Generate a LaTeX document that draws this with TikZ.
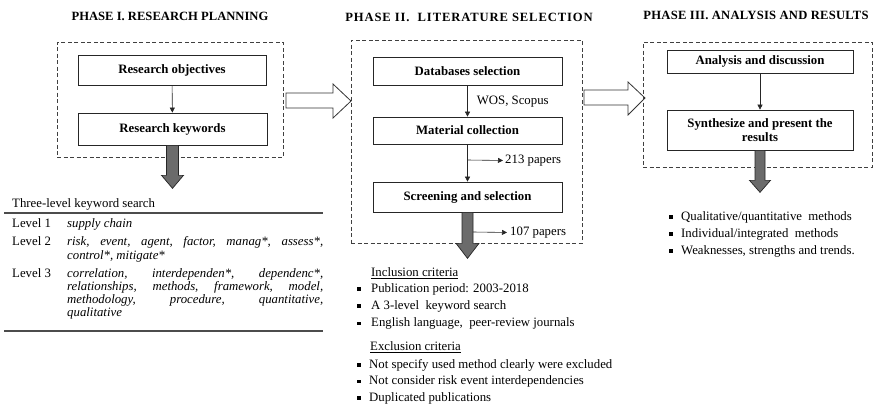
\documentclass[tikz,border=0pt]{standalone}
\usepackage{fontspec}
\setmainfont{Liberation Serif}
\usetikzlibrary{arrows.meta,calc}
\begin{document}
\begin{tikzpicture}[x=1pt,y=-1pt,
  title/.style={font=\fontsize{12.6}{14}\selectfont\bfseries, inner sep=0pt},
  dbox/.style={draw=black!75, line width=0.8pt, dash pattern=on 4pt off 2.5pt, inner sep=0pt},
  pbox/.style={draw=black!85, line width=0.7pt, font=\fontsize{12.8}{14.5}\selectfont\bfseries, align=center, inner sep=0pt},
  conn/.style={draw=black!85, line width=0.6pt, -{Triangle[length=5pt,width=5pt]}},
  garr/.style={draw=black!85, fill=black!58, line width=0.7pt, line join=miter},
  oarr/.style={draw=black!80, fill=white, line width=0.8pt, line join=miter},
  txt/.style={font=\fontsize{12.8}{13}\selectfont, inner sep=0pt, anchor=base west},
  itx/.style={font=\fontsize{12.8}{13}\selectfont\itshape, inner sep=0pt, anchor=base west},
  bul/.style={fill=black, minimum size=3.4pt, inner sep=0pt},
  rulestyle/.style={draw=black!70, line width=1.4pt}
]
\useasboundingbox (0,0) rectangle (874,407);

% ---------- Phase I ----------
\node[title] (t1) at (170,16) {PHASE I. RESEARCH PLANNING};
\node[dbox, minimum width=226pt, minimum height=115pt] (d1) at (170,99.5) {};
\node[pbox, minimum width=188pt, minimum height=30pt] (b1) at (172,70) {Research objectives};
\node[pbox, minimum width=189pt, minimum height=32pt] (b2) at (172.5,129) {Research keywords};
\draw[conn] (b1) -- (b2);
\draw[garr] (b2.south) ++(-6,0) -- ++(12,0) -- ++(0,30) -- ++(5,0) -- ++(-11,13) -- ++(-11,-13) -- ++(5,0) -- cycle;

% keyword table
\node[txt] (kt) at (12,207) {Three-level keyword search};
\coordinate (r1a) at (4,213); \coordinate (r1b) at (323,213);
\draw[rulestyle] (r1a) -- (r1b);
\node[txt] (l1) at (12,227) {Level 1};
\node[itx] (l1t) at (67,227) {supply chain};
\node[txt] (l2) at (12,245.5) {Level 2};
\node[itx] (l2a) at (67,245.5) {\makebox[256pt][s]{risk, event, agent, factor, manag*, assess*,}};
\node[itx] (l2b) at (67,259) {control*, mitigate*};
\node[txt] (l3) at (12,277) {Level 3};
\node[itx] (l3a) at (67,277) {\makebox[256pt][s]{correlation, interdependen*, dependenc*,}};
\node[itx] (l3b) at (67,290) {\makebox[256pt][s]{relationships, methods, framework, model,}};
\node[itx] (l3c) at (67,303) {\makebox[256pt][s]{methodology, procedure, quantitative,}};
\node[itx] (l3d) at (67,316.5) {qualitative};
\coordinate (r2a) at (4,331); \coordinate (r2b) at (323,331);
\draw[rulestyle] (r2a) -- (r2b);

% open arrow I -> II
\draw[oarr] (286,93) -- (333,93) -- (333,84) -- (351,101) -- (333,118) -- (333,108) -- (286,108) -- cycle;

% ---------- Phase II ----------
\node[title] (t2) at (469,17) {\addfontfeature{LetterSpace=7}PHASE II.\ \ LITERATURE SELECTION};
\node[dbox, minimum width=231pt, minimum height=203pt] (d2) at (466.5,141.5) {};
\node[pbox, minimum width=189pt, minimum height=28pt] (c1) at (467.5,71) {Databases selection};
\node[pbox, minimum width=189pt, minimum height=27pt] (c2) at (467.5,130.5) {Material collection};
\node[pbox, minimum width=189pt, minimum height=30pt] (c3) at (467.5,197) {Screening and selection};
\draw[conn] (c1) -- node[txt, anchor=west, pos=0.5, xshift=9pt, yshift=-1pt] (wos) {WOS, Scopus} (c2);
\draw[conn] (c2) -- (c3);
\coordinate (k1) at (467.5,160);
\node[txt, anchor=west] (p213) at (505,160.5) {213 papers};
\draw[conn, shorten >=2pt] (k1) -- (p213.west);
\draw[garr] (c3.south) ++(-5.5,0) -- ++(11,0) -- ++(0,31) -- ++(6,0) -- ++(-11.5,15) -- ++(-11.5,-15) -- ++(6,0) -- cycle;
\coordinate (k2) at (473,232);
\node[txt, anchor=west] (p107) at (510,232.5) {107 papers};
\draw[conn, shorten >=3pt] (k2) -- (p107.west);

% criteria
\node[txt, anchor=west] (inc) at (371,273) {\underline{Inclusion criteria}};
\node[bul] (bi1) at (359,289) {}; \node[txt, anchor=west] (i1) at (371,289) {Publication period: 2003-2018};
\node[bul] (bi2) at (359,306) {}; \node[txt, anchor=west] (i2) at (371,306) {A 3-level\ \ keyword search};
\node[bul] (bi3) at (359,323.5) {}; \node[txt, anchor=west] (i3) at (371,323.5) {English language,\ \ peer-review journals};
\node[txt, anchor=west] (exc) at (370,347.5) {\underline{Exclusion criteria}};
\node[bul] (be1) at (359,365) {}; \node[txt, anchor=west] (e1t) at (369,365) {Not specify used method clearly were excluded};
\node[bul] (be2) at (359,381.5) {}; \node[txt, anchor=west] (e2t) at (369,381.5) {Not consider risk event interdependencies};
\node[bul] (be3) at (359,398) {}; \node[txt, anchor=west] (e3t) at (369,398) {Duplicated publications};

% open arrow II -> III
\draw[oarr] (584,90) -- (628,90) -- (628,82) -- (645,98) -- (628,115) -- (628,105) -- (584,105) -- cycle;

% ---------- Phase III ----------
\node[title] (t3) at (756,15) {\addfontfeature{LetterSpace=2}PHASE III. ANALYSIS\ AND RESULTS};
\node[dbox, minimum width=229pt, minimum height=125pt] (d3) at (757.5,104.5) {};
\node[pbox, minimum width=186pt, minimum height=23pt] (e1) at (760,61.5) {Analysis and discussion};
\node[pbox, minimum width=186pt, minimum height=40pt] (e2) at (760,130) {Synthesize and present the\\results};
\draw[conn] (e1) -- (e2);
\draw[garr] (e2.south) ++(-5,0) -- ++(10,0) -- ++(0,30) -- ++(5.5,0) -- ++(-10.5,12) -- ++(-10.5,-12) -- ++(5.5,0) -- cycle;
\node[bul] (bq1) at (671,217) {}; \node[txt, anchor=west] (q1) at (681,217) {Qualitative/quantitative\ \ methods};
\node[bul] (bq2) at (671,234) {}; \node[txt, anchor=west] (q2) at (681,234) {Individual/integrated\ \ methods};
\node[bul] (bq3) at (671,251) {}; \node[txt, anchor=west] (q3) at (681,251) {Weaknesses, strengths and trends.};
\end{tikzpicture}
\end{document}
